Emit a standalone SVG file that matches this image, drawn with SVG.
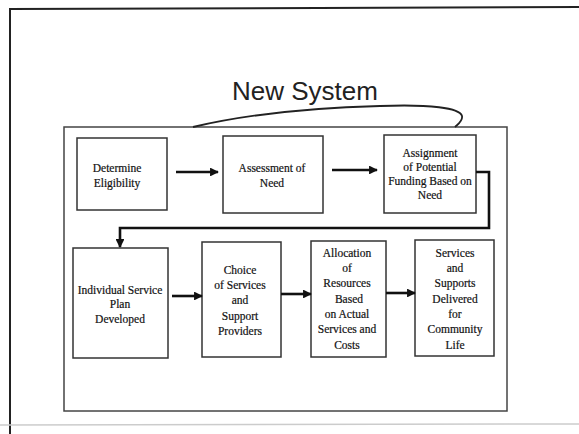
<svg xmlns="http://www.w3.org/2000/svg" width="579" height="434" viewBox="0 0 579 434">
<style>
.box{fill:#fff;stroke:#333;stroke-width:1.5}
.t{font-family:"Liberation Serif","Times New Roman",Times,serif;font-size:11.5px;fill:#111;text-anchor:middle;stroke:#111;stroke-width:0.2}
.c{fill:none;stroke:#111;stroke-width:2.6}
</style>
<defs>
<marker id="ah" viewBox="0 0 10 10" refX="9" refY="5" markerWidth="3.4" markerHeight="3.4" orient="auto" markerUnits="strokeWidth">
<path d="M0,0 L10,5 L0,10 Z" fill="#111"/>
</marker>
</defs>
<rect width="579" height="434" fill="#fff"/>
<g id="frame">
<path d="M10,434 L10,9 L579,7" fill="none" stroke="#222" stroke-width="2"/>
<path d="M0,425 L579,424" fill="none" stroke="#ccc" stroke-width="1.5"/>
<rect x="64" y="127" width="443" height="284" fill="none" stroke="#444" stroke-width="1.5"/>
</g>
<g id="title">
<text x="305" y="100" font-family="Liberation Sans, Arial, sans-serif" font-size="26" fill="#222" text-anchor="middle">New System</text>
<path d="M193,127 C240,116 300,108 380,106 C430,104 460,108 462,116 C463,121 458,124 455,127" fill="none" stroke="#222" stroke-width="1.8"/>
</g>
<g font-family="Liberation Serif, Times New Roman, serif">
<g id="n1">
<rect class="box" x="77" y="138" width="90" height="72"/>
<text class="t" x="117" y="172">Determine</text>
<text class="t" x="117" y="187">Eligibility</text>
</g>
<g id="n2">
<rect class="box" x="223" y="136" width="100" height="77"/>
<text class="t" x="272" y="172">Assessment of</text>
<text class="t" x="272" y="187">Need</text>
</g>
<g id="n3">
<rect class="box" x="384" y="135" width="92" height="78"/>
<text class="t" x="430" y="157">Assignment</text>
<text class="t" x="430" y="171">of Potential</text>
<text class="t" x="430" y="185">Funding Based on</text>
<text class="t" x="430" y="199">Need</text>
</g>
<g id="n4">
<rect class="box" x="73" y="248" width="95" height="110"/>
<text class="t" x="120" y="294">Individual Service</text>
<text class="t" x="120" y="308">Plan</text>
<text class="t" x="120" y="323">Developed</text>
</g>
<g id="n5">
<rect class="box" x="202" y="242" width="79" height="115"/>
<text class="t" x="240" y="274">Choice</text>
<text class="t" x="240" y="289">of Services</text>
<text class="t" x="240" y="304">and</text>
<text class="t" x="240" y="320">Support</text>
<text class="t" x="240" y="335">Providers</text>
</g>
<g id="n6">
<rect class="box" x="311" y="241" width="75" height="116"/>
<text class="t" x="347" y="257">Allocation</text>
<text class="t" x="347" y="272">of</text>
<text class="t" x="347" y="287">Resources</text>
<text class="t" x="349" y="303">Based</text>
<text class="t" x="347" y="318">on Actual</text>
<text class="t" x="347" y="333">Services and</text>
<text class="t" x="347" y="349">Costs</text>
</g>
<g id="n7">
<rect class="box" x="415" y="240" width="79" height="116"/>
<text class="t" x="455" y="257">Services</text>
<text class="t" x="455" y="272">and</text>
<text class="t" x="455" y="287">Supports</text>
<text class="t" x="455" y="303">Delivered</text>
<text class="t" x="455" y="318">for</text>
<text class="t" x="455" y="333">Community</text>
<text class="t" x="455" y="349">Life</text>
</g>
</g>
<g id="connectors">
<path class="c" d="M176,172 L218,172" marker-end="url(#ah)"/>
<path class="c" d="M332,170 L377,170" marker-end="url(#ah)"/>
<path class="c" d="M476,172 L489,172 L489,228 L120,228 L120,247" marker-end="url(#ah)"/>
<path class="c" d="M172,296 L202,296" marker-end="url(#ah)"/>
<path class="c" d="M281,294 L311,294" marker-end="url(#ah)"/>
<path class="c" d="M386,293 L415,293" marker-end="url(#ah)"/>
</g>
</svg>
